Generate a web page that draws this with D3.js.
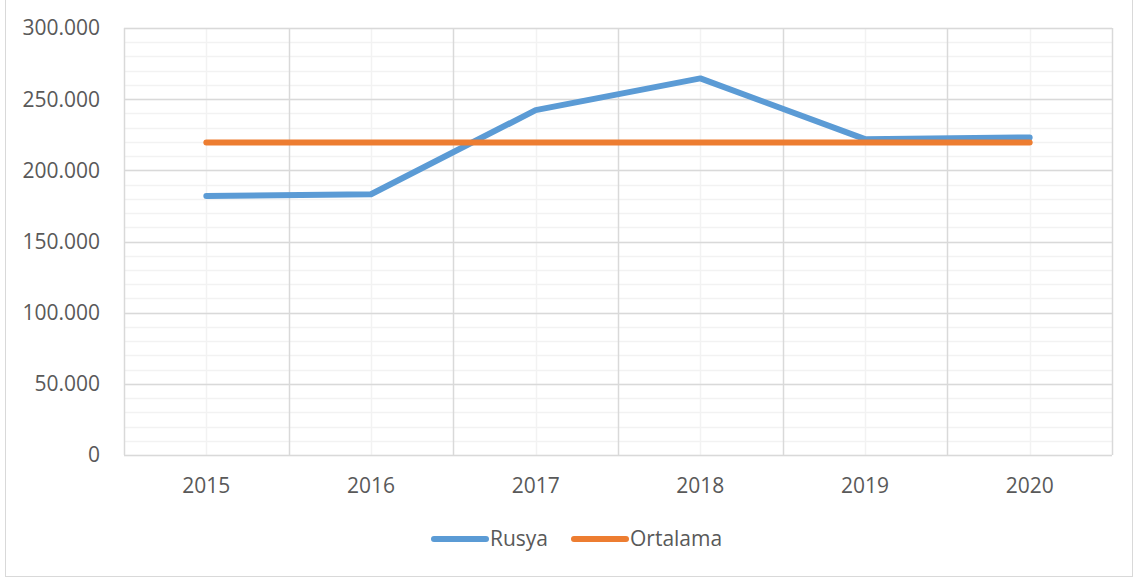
<!DOCTYPE html>
<html>
<head>
<meta charset="utf-8">
<script src="https://cdn.jsdelivr.net/npm/d3@7"></script>
<style>
  body { margin: 0; background: #fff; }
  text { font-family: "Open Sans", sans-serif; fill: #595959; }
</style>
</head>
<body>
<div id="chart"></div>
<script>
// chart data
var years = ["2015", "2016", "2017", "2018", "2019", "2020"];
var rusya = [182000, 183200, 242300, 264600, 221900, 223100];
var ortalama = [219500, 219500, 219500, 219500, 219500, 219500];
var majorTicks = [0, 50000, 100000, 150000, 200000, 250000, 300000];
var minorTicks = d3.range(0, 300001, 10000);
var seriesNames = ["Rusya", "Ortalama"];
var seriesColors = ["#5b9bd5", "#ed7d31"];

var svgWidth = 1134;
var svgHeight = 578;

var margin = { top: 28, right: 22, bottom: 123, left: 124 };
var width = svgWidth - margin.left - margin.right;
var height = svgHeight - margin.top - margin.bottom;

var svg = d3.select("#chart")
  .append("svg")
  .attr("width", svgWidth)
  .attr("height", svgHeight);

// outer chart border
svg.append("rect")
  .attr("x", 5.5)
  .attr("y", -1)
  .attr("width", svgWidth - 7)
  .attr("height", svgHeight - 0.5)
  .attr("fill", "none")
  .attr("stroke", "#d9d9d9");

var chartGroup = svg.append("g")
  .attr("transform", `translate(${margin.left}, ${margin.top})`);

var xScale = d3.scaleBand()
  .domain(years)
  .range([0, width]);

var yScale = d3.scaleLinear()
  .domain([0, 300000])
  .range([height, 0]);

var cx = d => xScale(d) + xScale.bandwidth() / 2;

// minor horizontal grid
chartGroup.append("g")
  .selectAll("line")
  .data(minorTicks)
  .enter()
  .append("line")
  .attr("x1", 0)
  .attr("x2", width)
  .attr("y1", d => Math.round(yScale(d)) + 0.5)
  .attr("y2", d => Math.round(yScale(d)) + 0.5)
  .attr("stroke", "#f2f2f2")
  .attr("stroke-width", 1.5);

// minor vertical grid at category centres
chartGroup.append("g")
  .selectAll("line")
  .data(years)
  .enter()
  .append("line")
  .attr("x1", d => Math.round(cx(d)) + 0.5)
  .attr("x2", d => Math.round(cx(d)) + 0.5)
  .attr("y1", 0)
  .attr("y2", height)
  .attr("stroke", "#f2f2f2")
  .attr("stroke-width", 1.5);

// major horizontal grid
chartGroup.append("g")
  .selectAll("line")
  .data(majorTicks)
  .enter()
  .append("line")
  .attr("x1", 0)
  .attr("x2", width)
  .attr("y1", d => Math.round(yScale(d)) + 0.5)
  .attr("y2", d => Math.round(yScale(d)) + 0.5)
  .attr("stroke", "#d9d9d9")
  .attr("stroke-width", 1.5);

// major vertical grid at category boundaries
var boundaries = years.map(d => xScale(d)).concat([width]);
chartGroup.append("g")
  .selectAll("line")
  .data(boundaries)
  .enter()
  .append("line")
  .attr("x1", d => Math.round(d) + 0.5)
  .attr("x2", d => Math.round(d) + 0.5)
  .attr("y1", 0)
  .attr("y2", height)
  .attr("stroke", "#d9d9d9")
  .attr("stroke-width", 1.5);

// y axis labels
var locale = d3.formatLocale({ decimal: ",", thousands: ".", grouping: [3], currency: ["", ""] });
var fmt = locale.format(",");

chartGroup.append("g")
  .selectAll("text")
  .data(majorTicks)
  .enter()
  .append("text")
  .attr("x", -24)
  .attr("y", d => yScale(d))
  .attr("dy", "0.35em")
  .attr("text-anchor", "end")
  .style("font-size", "21px")
  .text(d => fmt(d));

// x axis labels
chartGroup.append("g")
  .selectAll("text")
  .data(years)
  .enter()
  .append("text")
  .attr("x", d => cx(d))
  .attr("y", height + 38)
  .attr("text-anchor", "middle")
  .style("font-size", "21px")
  .text(d => d);

// lines
var line = d3.line()
  .x((d, i) => cx(years[i]))
  .y(d => yScale(d));

[rusya, ortalama].forEach(function(values, i) {
  chartGroup.append("path")
    .datum(values)
    .attr("d", line)
    .attr("fill", "none")
    .attr("stroke", seriesColors[i])
    .attr("stroke-width", 6)
    .attr("stroke-linecap", "round")
    .attr("stroke-linejoin", "round");
});

// legend
var legendX = [434, 574];
var legend = svg.append("g");
seriesNames.forEach(function(name, i) {
  legend.append("line")
    .attr("x1", legendX[i])
    .attr("x2", legendX[i] + 52)
    .attr("y1", 539)
    .attr("y2", 539)
    .attr("stroke", seriesColors[i])
    .attr("stroke-width", 6)
    .attr("stroke-linecap", "round");
  legend.append("text")
    .attr("x", legendX[i] + 56)
    .attr("y", 539)
    .attr("dy", "0.35em")
    .style("font-size", "21px")
    .text(name);
});
</script>
</body>
</html>
